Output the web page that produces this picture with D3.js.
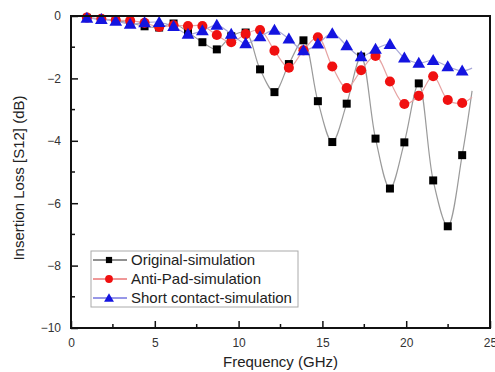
<!DOCTYPE html>
<html>
<head>
<meta charset="utf-8">
<script src="https://cdn.jsdelivr.net/npm/d3@7"></script>
<style>
  body { margin: 0; background: #fff; }
  svg { display: block; font-family: "Liberation Sans", Arial, sans-serif; }
</style>
</head>
<body>
<div id="chart"></div>
<script>
// Frequency samples (GHz). The last entry only carries the line, no marker.
const freqs = [0.95, 1.81, 2.67, 3.53, 4.39, 5.26, 6.12, 6.98, 7.84, 8.70,
  9.56, 10.42, 11.28, 12.14, 13.00, 13.87, 14.73, 15.59, 16.45, 17.31,
  18.17, 19.03, 19.89, 20.75, 21.61, 22.48, 23.34, 23.93];

const originalValues = [-0.06, -0.10, -0.15, -0.22, -0.33, -0.37, -0.24, -0.52, -0.84, -1.07,
  -0.65, -0.53, -1.71, -2.44, -1.54, -0.78, -2.73, -4.04, -2.81, -1.30,
  -3.93, -5.53, -4.05, -2.16, -5.27, -6.74, -4.46, -2.40];

const antiPadValues = [-0.05, -0.09, -0.13, -0.15, -0.22, -0.35, -0.30, -0.32, -0.32, -0.61,
  -0.84, -0.58, -0.45, -1.11, -1.66, -1.10, -0.68, -1.62, -2.31, -1.74,
  -1.28, -2.10, -2.82, -2.56, -1.93, -2.69, -2.79, -2.60];

const shortContactValues = [-0.07, -0.11, -0.16, -0.26, -0.21, -0.20, -0.33, -0.58, -0.47, -0.29,
  -0.58, -0.88, -0.66, -0.45, -0.73, -1.11, -0.89, -0.56, -0.95, -1.30,
  -1.06, -0.91, -1.34, -1.51, -1.42, -1.62, -1.76, -1.67];

const seriesNames = ['Original-simulation', 'Anti-Pad-simulation', 'Short contact-simulation'];
const xTicks = [0, 5, 10, 15, 20, 25];
const yTicks = [0, -2, -4, -6, -8, -10];

const width = 495, height = 372;
const margin = { top: 16, right: 5, bottom: 44, left: 71 };
const markerCount = 27;

const series = [
  { name: seriesNames[0], values: originalValues, shape: d3.symbolSquare, size: 64,
    fill: '#000', line: '#9a9a9a', legendLine: '#222' },
  { name: seriesNames[1], values: antiPadValues, shape: d3.symbolCircle, size: 80,
    fill: '#f01010', line: '#e6a3a3', legendLine: '#e03030' },
  { name: seriesNames[2], values: shortContactValues, shape: d3.symbolTriangle, size: 70,
    fill: '#1414e0', line: '#a8a8d8', legendLine: '#3030d0' }
];

const svg = d3.select('#chart').append('svg')
  .attr('width', width)
  .attr('height', height);

const x = d3.scaleLinear().domain([0, 25]).range([margin.left, width - margin.right]);
const y = d3.scaleLinear().domain([-10, 0]).range([height - margin.bottom, margin.top]);

// Lines first, so the markers sit on top
const line = d3.line()
  .x((d) => x(d[0]))
  .y((d) => y(d[1]))
  .curve(d3.curveCatmullRom.alpha(0.5));

series.forEach((s) => {
  const pts = freqs.map((f, i) => [f, s.values[i]]);
  svg.append('path')
    .datum(pts)
    .attr('fill', 'none')
    .attr('stroke', s.line)
    .attr('stroke-width', 1.2)
    .attr('d', line);
});

// Markers, triangles last so they sit on top like the reference
series.forEach((s) => {
  const pts = freqs.slice(0, markerCount).map((f, i) => [f, s.values[i]]);
  svg.append('g')
    .selectAll('path')
    .data(pts)
    .enter()
    .append('path')
      .attr('transform', (d) => {
        const dy = s.shape === d3.symbolTriangle ? 1 : 0;
        return `translate(${x(d[0])},${y(d[1]) + dy})`;
      })
      .attr('d', d3.symbol().type(s.shape).size(s.size))
      .attr('fill', s.fill);
});

// Axes: ticks pointing inward
const xAxis = d3.axisBottom(x).tickValues(xTicks).tickSize(-7).tickSizeOuter(0).tickPadding(10);
const yAxis = d3.axisLeft(y).tickValues(yTicks).tickSize(-7).tickSizeOuter(0).tickPadding(10);

const gx = svg.append('g')
  .attr('transform', `translate(0,${y(-10)})`)
  .call(xAxis);
const gy = svg.append('g')
  .attr('transform', `translate(${x(0)},0)`)
  .call(yAxis);

[gx, gy].forEach((g) => {
  g.select('.domain').remove();
  g.selectAll('line').attr('stroke', '#111').attr('stroke-width', 1.5);
  g.selectAll('text').attr('font-size', 12).attr('fill', '#333')
    .attr('font-family', '"Liberation Sans", Arial, sans-serif');
});

// Minor ticks
d3.range(2.5, 25, 5).forEach((v) => {
  svg.append('line')
    .attr('x1', x(v)).attr('x2', x(v))
    .attr('y1', y(-10)).attr('y2', y(-10) - 4)
    .attr('stroke', '#111').attr('stroke-width', 1.5);
});
d3.range(-9, 0, 2).forEach((v) => {
  svg.append('line')
    .attr('x1', x(0)).attr('x2', x(0) + 4)
    .attr('y1', y(v)).attr('y2', y(v))
    .attr('stroke', '#111').attr('stroke-width', 1.5);
});

// Frame
svg.append('rect')
  .attr('x', x(0)).attr('y', y(0))
  .attr('width', x(25) - x(0)).attr('height', y(-10) - y(0))
  .attr('fill', 'none')
  .attr('stroke', '#111')
  .attr('stroke-width', 2);

// Axis titles
svg.append('text')
  .attr('x', (x(0) + x(25)) / 2)
  .attr('y', 367)
  .attr('text-anchor', 'middle')
  .attr('font-size', 15)
  .attr('fill', '#222')
  .text('Frequency (GHz)');

svg.append('text')
  .attr('transform', `translate(24,${(y(0) + y(-10)) / 2 + 6}) rotate(-90)`)
  .attr('text-anchor', 'middle')
  .attr('font-size', 15)
  .attr('fill', '#222')
  .text('Insertion Loss [S12] (dB)');

// Legend
const legend = svg.append('g').attr('transform', 'translate(91,251)');
legend.append('rect')
  .attr('width', 207).attr('height', 56)
  .attr('fill', '#fff')
  .attr('stroke', '#aaa')
  .attr('stroke-width', 1);

series.forEach((s, i) => {
  const row = legend.append('g').attr('transform', `translate(0,${9 + i * 19})`);
  row.append('line')
    .attr('x1', 2).attr('x2', 36)
    .attr('stroke', s.legendLine)
    .attr('stroke-width', 1);
  row.append('path')
    .attr('transform', `translate(18,${s.shape === d3.symbolTriangle ? 1 : 0})`)
    .attr('d', d3.symbol().type(s.shape).size(s.size * 0.6))
    .attr('fill', s.fill);
  row.append('text')
    .attr('x', 40)
    .attr('y', 5)
    .attr('font-size', 15)
    .attr('fill', '#222')
    .text(s.name);
});
</script>
</body>
</html>
